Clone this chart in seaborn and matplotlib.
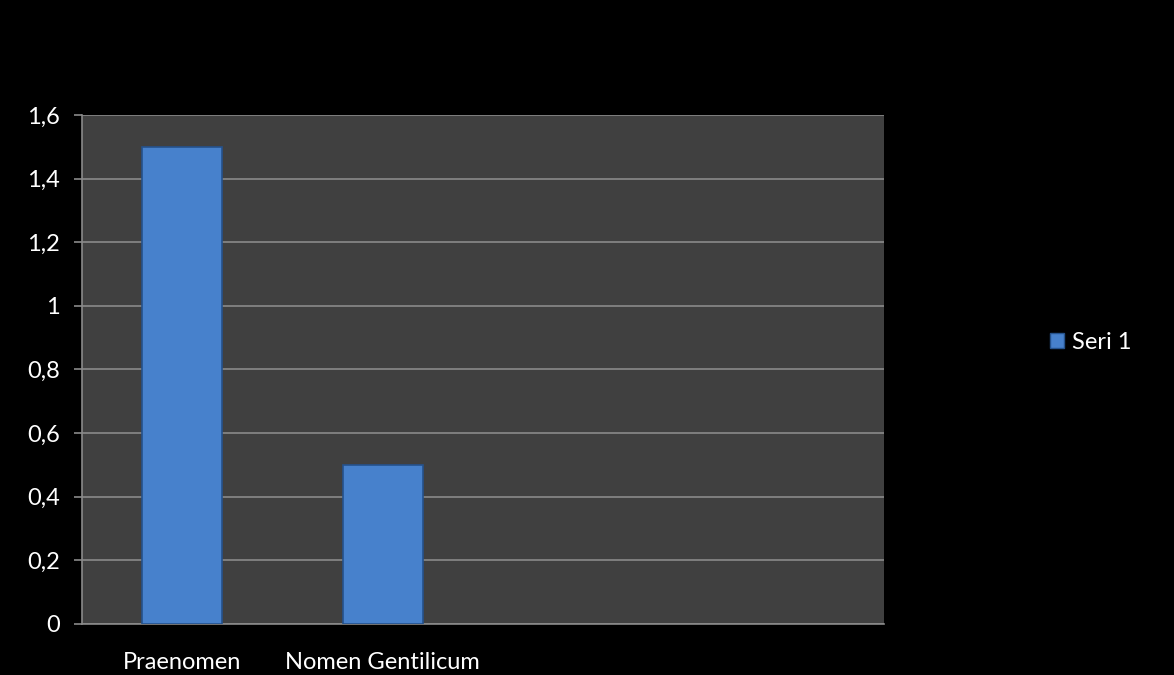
import numpy as np
import pandas as pd
import matplotlib
matplotlib.use("Agg")
import matplotlib.pyplot as plt
import seaborn as sns
from matplotlib.ticker import FuncFormatter, FixedLocator
from matplotlib.patches import Patch

categories = ["Praenomen", "Nomen Gentilicum", "Kategori 3", "Kategori 4"]
tick_labels = ["Praenomen", "Nomen Gentilicum", "", ""]
values = [1.5, 0.5, np.nan, np.nan]
series_name = "Seri 1"
y_ticks = [0, 0.2, 0.4, 0.6, 0.8, 1.0, 1.2, 1.4, 1.6]

sns.set_style("dark")
plt.rcParams['font.family'] = ['Lato', 'DejaVu Sans']

df = pd.DataFrame({"cat": categories, "val": values})

fig = plt.figure(figsize=(11.74, 6.75), dpi=100, facecolor="black")
ax = fig.add_axes([82/1174, 1-624/675, (884-82)/1174, (624-115)/675])
ax.set_facecolor("#404040")

sns.barplot(data=df, x="cat", y="val", order=categories, color="#4781cc",
            saturation=1, width=0.4, edgecolor="#25528c", linewidth=1.2,
            ax=ax, zorder=3)

ax.set_ylim(0, 1.6)
ax.set_xlim(-0.5, len(categories) - 0.5)
ax.set_yticks(y_ticks)
ax.yaxis.set_major_formatter(FuncFormatter(lambda v, p: ("%g" % round(v, 1)).replace(".", ",")))
ax.grid(axis="y", color="#8a8a8a", linewidth=1.2, zorder=1)
ax.grid(axis="x", visible=False)
ax.set_axisbelow(True)

ax.set_xticks(range(len(categories)))
ax.set_xticklabels(tick_labels)
ax.xaxis.set_minor_locator(FixedLocator([i - 0.5 for i in range(len(categories) + 1)]))
ax.tick_params(axis="x", which="major", length=0, pad=20, labelsize=17, labelcolor="white")
ax.tick_params(axis="x", which="minor", length=6, color="#8a8a8a", width=1.2)
ax.tick_params(axis="y", which="major", length=6, color="#8a8a8a", width=1.2,
               labelsize=17, labelcolor="white", pad=10, left=True)
ax.set_xlabel("")
ax.set_ylabel("")

for s in ["top", "right"]:
    ax.spines[s].set_visible(False)
for s in ["left", "bottom"]:
    ax.spines[s].set_visible(True)
    ax.spines[s].set_color("#8a8a8a")
    ax.spines[s].set_linewidth(1.2)

handle = Patch(facecolor="#4781cc", edgecolor="#25528c", label=series_name)
leg = fig.legend(handles=[handle], loc="center left", bbox_to_anchor=(1029/1174, 1-342/675),
                 frameon=False, fontsize=17, labelcolor="white",
                 handlelength=0.6, handleheight=0.6, handletextpad=0.3)

fig.savefig("out.png", dpi=100, facecolor="black")
